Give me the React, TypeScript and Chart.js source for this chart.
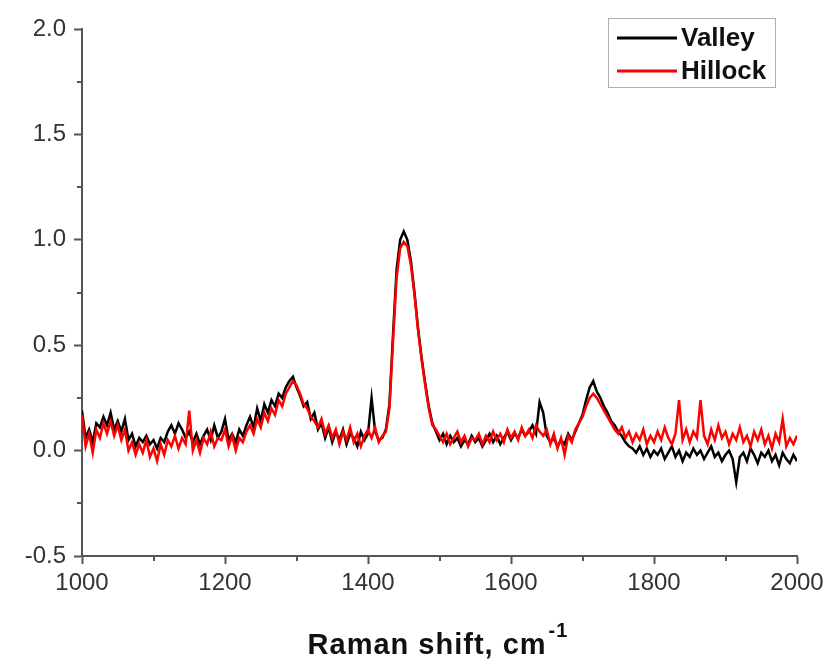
import React, { useEffect, useRef } from "react";
import { Chart, registerables } from "chart.js";

Chart.register(...registerables);

// Raman shift axis: first value and spacing (cm-1)
const shiftStart = 1000;
const shiftStep = 5;

const seriesNames = ["Valley", "Hillock"];
const seriesColors = ["#000000", "#ff0000"];

// Valley intensities, 1000..2000 cm-1 every 5 cm-1
const valley = [
  0.19, 0.06, 0.10, 0.04, 0.13, 0.11, 0.16, 0.12, 0.18, 0.10,
  0.14, 0.09, 0.15, 0.05, 0.08, 0.02, 0.06, 0.04, 0.07, 0.03,
  0.05, 0.01, 0.06, 0.04, 0.09, 0.12, 0.08, 0.13, 0.10, 0.06,
  0.09, 0.04, 0.08, 0.03, 0.07, 0.10, 0.05, 0.12, 0.06, 0.09,
  0.15, 0.05, 0.08, 0.04, 0.10, 0.07, 0.12, 0.16, 0.11, 0.20,
  0.14, 0.22, 0.18, 0.24, 0.21, 0.27, 0.25, 0.30, 0.33, 0.35,
  0.30, 0.26, 0.21, 0.23, 0.15, 0.18, 0.10, 0.13, 0.06, 0.11,
  0.04, 0.09, 0.05, 0.10, 0.03, 0.08, 0.06, 0.02, 0.09, 0.05,
  0.08, 0.25, 0.09, 0.05, 0.06, 0.10, 0.22, 0.55, 0.86, 1.00,
  1.04, 1.00, 0.90, 0.75, 0.58, 0.44, 0.32, 0.21, 0.13, 0.09,
  0.05, 0.08, 0.03, 0.07, 0.04, 0.06, 0.02, 0.05, 0.03, 0.07,
  0.04, 0.06, 0.02, 0.05, 0.08, 0.04, 0.07, 0.03, 0.06, 0.09,
  0.05, 0.08, 0.06, 0.10, 0.07, 0.09, 0.12, 0.08, 0.23, 0.18,
  0.07, 0.04, 0.06, 0.02, 0.05, 0.03, 0.08, 0.05, 0.09, 0.13,
  0.17, 0.24, 0.30, 0.33, 0.28, 0.25, 0.21, 0.18, 0.14, 0.12,
  0.09, 0.07, 0.04, 0.02, 0.01, -0.01, 0.02, -0.02, 0.01, -0.03,
  0.00, -0.02, 0.01, -0.04, -0.01, 0.02, -0.03, 0.00, -0.05, -0.01,
  -0.03, 0.01, -0.02, 0.00, -0.04, -0.01, 0.02, -0.03, -0.01, -0.05,
  -0.02, 0.00, -0.04, -0.15, -0.03, -0.01, -0.05, 0.01, -0.02, -0.06,
  -0.01, -0.03, 0.00, -0.05, -0.02, -0.07, -0.01, -0.04, -0.06, -0.02,
  -0.05,
];

// Hillock intensities, 1000..2000 cm-1 every 5 cm-1
const hillock = [
  0.17, 0.02, 0.08, -0.01, 0.10, 0.06, 0.13, 0.08, 0.14, 0.07,
  0.12, 0.05, 0.10, 0.00, 0.04, -0.02, 0.03, -0.01, 0.05, -0.03,
  0.01, -0.05, 0.03, -0.02, 0.05, 0.02, 0.07, 0.01, 0.06, 0.03,
  0.19, 0.00, 0.05, -0.01, 0.06, 0.03, 0.09, 0.02, 0.06, 0.05,
  0.10, 0.02, 0.07, 0.00, 0.06, 0.04, 0.09, 0.12, 0.08, 0.15,
  0.11, 0.18, 0.14, 0.20, 0.17, 0.24, 0.21, 0.27, 0.30, 0.33,
  0.31, 0.27, 0.22, 0.20, 0.16, 0.14, 0.11, 0.15, 0.08, 0.12,
  0.06, 0.10, 0.03, 0.09, 0.05, 0.11, 0.04, 0.08, 0.02, 0.07,
  0.10, 0.06, 0.11, 0.04, 0.07, 0.09, 0.20, 0.52, 0.82, 0.96,
  0.99, 0.97, 0.88, 0.74, 0.57, 0.43, 0.31, 0.20, 0.12, 0.10,
  0.07, 0.04, 0.08, 0.03, 0.06, 0.09, 0.04, 0.07, 0.02, 0.06,
  0.05, 0.08, 0.03, 0.07, 0.04, 0.09, 0.05, 0.08, 0.04, 0.10,
  0.06, 0.09, 0.05, 0.11, 0.07, 0.10, 0.06, 0.12, 0.09, 0.07,
  0.10, 0.03, 0.08, 0.01, 0.06, -0.02, 0.07, 0.04, 0.10, 0.13,
  0.16, 0.21, 0.25, 0.27, 0.25, 0.22, 0.19, 0.16, 0.13, 0.10,
  0.08, 0.11, 0.06, 0.09, 0.04, 0.08, 0.05, 0.10, 0.03, 0.07,
  0.04, 0.09, 0.05, 0.11, 0.06, 0.03, 0.08, 0.24, 0.05, 0.10,
  0.04, 0.09, 0.06, 0.24, 0.07, 0.03, 0.10, 0.05, 0.12, 0.06,
  0.09, 0.03, 0.08, 0.05, 0.11, 0.04, 0.07, 0.02, 0.09, 0.05,
  0.10, 0.03, 0.07, 0.01, 0.08, 0.04, 0.15, 0.02, 0.06, 0.03,
  0.07,
];

const xMajorTicks = [1000, 1200, 1400, 1600, 1800, 2000];
const xMinorTicks = [1100, 1300, 1500, 1700, 1900];
const yMajorTicks = [-0.5, 0.0, 0.5, 1.0, 1.5, 2.0];
const yMinorTicks = [-0.25, 0.25, 0.75, 1.25, 1.75];

const xTitleMain = "Raman shift, cm";
const xTitleSup = "-1";

const FONT = "'Liberation Sans', Arial, sans-serif";
const AXIS_COLOR = "#555555";

const toPoints = (vals: number[]) =>
  vals.map((v, i) => ({ x: shiftStart + i * shiftStep, y: v }));

const decorPlugin = {
  id: "decor",
  afterDraw(chart: any) {
    const ctx = chart.ctx;
    const xs = chart.scales.x;
    const ys = chart.scales.y;
    const area = chart.chartArea;
    ctx.save();
    // minor ticks
    ctx.strokeStyle = AXIS_COLOR;
    ctx.lineWidth = 2;
    ctx.beginPath();
    xMinorTicks.forEach((v) => {
      const px = Math.round(xs.getPixelForValue(v));
      ctx.moveTo(px, area.bottom);
      ctx.lineTo(px, area.bottom + 5);
    });
    yMinorTicks.forEach((v) => {
      const py = Math.round(ys.getPixelForValue(v));
      ctx.moveTo(area.left - 5, py);
      ctx.lineTo(area.left, py);
    });
    ctx.stroke();

    // legend
    const bx = 608, by = 18, bw = 167, bh = 69;
    ctx.strokeStyle = "#b0b0b0";
    ctx.lineWidth = 1;
    ctx.strokeRect(bx + 0.5, by + 0.5, bw, bh);
    ctx.font = `bold 26px ${FONT}`;
    ctx.textBaseline = "middle";
    ctx.textAlign = "left";
    chart.data.datasets.forEach((ds: any, i: number) => {
      const ly = by + 20 + i * 33;
      ctx.strokeStyle = ds.borderColor;
      ctx.lineWidth = 3;
      ctx.beginPath();
      ctx.moveTo(bx + 9, ly);
      ctx.lineTo(bx + 69, ly);
      ctx.stroke();
      ctx.fillStyle = "#111";
      ctx.fillText(ds.label, bx + 73, ly + 1);
    });

    // x axis title with superscript
    const mainFont = `bold 29px ${FONT}`;
    const supFont = `bold 20px ${FONT}`;
    try {
      (ctx as any).letterSpacing = "1px";
    } catch (e) {}
    ctx.font = mainFont;
    const w1 = ctx.measureText(xTitleMain).width;
    ctx.font = supFont;
    const w2 = ctx.measureText(xTitleSup).width;
    const cx = 438;
    const sx = cx - (w1 + w2 + 2) / 2;
    ctx.fillStyle = "#111";
    ctx.font = mainFont;
    ctx.fillText(xTitleMain, sx, 646);
    ctx.font = supFont;
    ctx.fillText(xTitleSup, sx + w1 + 2, 631);
    ctx.restore();
  },
};

export default function App() {
  const ref = useRef<HTMLCanvasElement | null>(null);

  useEffect(() => {
    document.body.style.margin = "0";
    const canvas = ref.current;
    if (!canvas) return;
    const chart = new Chart(canvas, {
      type: "line",
      data: {
        datasets: [
          {
            label: seriesNames[0],
            data: toPoints(valley),
            borderColor: seriesColors[0],
            backgroundColor: seriesColors[0],
            borderWidth: 2.5,
            pointRadius: 0,
            tension: 0,
            order: 1,
          },
          {
            label: seriesNames[1],
            data: toPoints(hillock),
            borderColor: seriesColors[1],
            backgroundColor: seriesColors[1],
            borderWidth: 2.5,
            pointRadius: 0,
            tension: 0,
            order: 0,
          },
        ],
      },
      options: {
        responsive: false,
        animation: false,
        devicePixelRatio: 1,
        layout: { padding: { top: 29, right: 38, left: 0, bottom: 0 } },
        plugins: {
          legend: { display: false },
          tooltip: { enabled: false },
        },
        scales: {
          x: {
            type: "linear",
            min: 1000,
            max: 2000,
            afterFit: (s: any) => {
              s.height = 114;
            },
            afterBuildTicks: (s: any) => {
              s.ticks = xMajorTicks.map((v) => ({ value: v }));
            },
            ticks: {
              color: "#333",
              font: { family: FONT, size: 24 },
              padding: 5,
              maxRotation: 0,
              callback: (v: any) => String(v),
            },
            grid: {
              drawOnChartArea: false,
              drawTicks: true,
              tickLength: 8,
              tickWidth: 2,
              tickColor: AXIS_COLOR,
            },
            border: { color: AXIS_COLOR, width: 2 },
          },
          y: {
            type: "linear",
            min: -0.5,
            max: 2.0,
            afterFit: (s: any) => {
              s.width = 82;
            },
            afterBuildTicks: (s: any) => {
              s.ticks = yMajorTicks.map((v) => ({ value: v }));
            },
            ticks: {
              color: "#333",
              font: { family: FONT, size: 24 },
              padding: 8,
              callback: (v: any) => Number(v).toFixed(1),
            },
            grid: {
              drawOnChartArea: false,
              drawTicks: true,
              tickLength: 8,
              tickWidth: 2,
              tickColor: AXIS_COLOR,
            },
            border: { color: AXIS_COLOR, width: 2 },
          },
        },
      },
      plugins: [decorPlugin],
    });
    return () => chart.destroy();
  }, []);

  return (
    <div style={{ width: 835, height: 670, background: "#fff" }}>
      <canvas ref={ref} width={835} height={670} style={{ display: "block" }} />
    </div>
  );
}
